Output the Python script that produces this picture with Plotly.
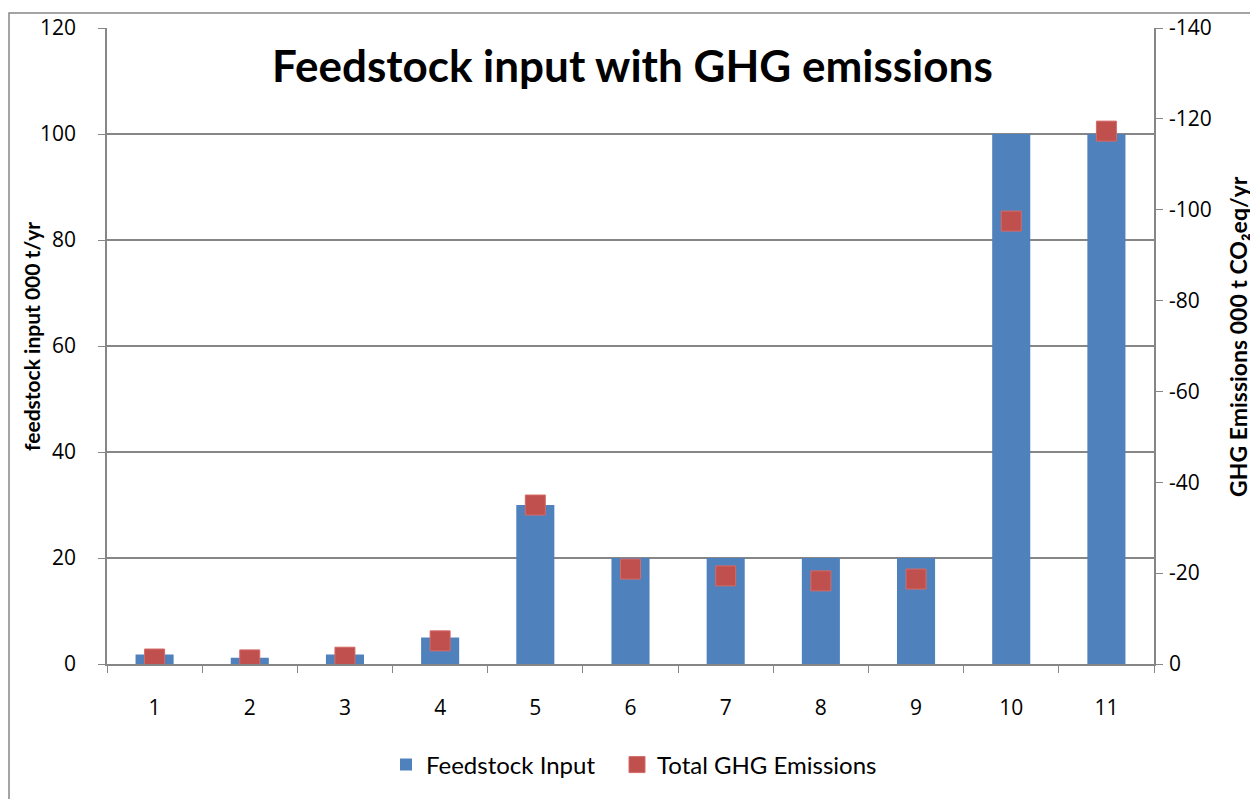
import plotly.graph_objects as go

categories = ["1", "2", "3", "4", "5", "6", "7", "8", "9", "10", "11"]
feedstock_input = [1.8, 1.2, 1.8, 5, 30, 20, 20, 20, 20, 100, 100]
ghg_emissions = [-1.1, -0.9, -1.5, -5.1, -35, -20.9, -19.4, -18.3, -18.7, -97.5, -117.3]

left_ticks = [0, 20, 40, 60, 80, 100, 120]
right_ticks = [0, -20, -40, -60, -80, -100, -120, -140]
right_ticktext = ["0", "-20", "-40", "-60", "-80", "-100", "-120", "-140"]

# page has an 8px body margin; the figure extends past the window bottom
OFF = 8
PLOT_L, PLOT_R, PLOT_T, PLOT_B = 107, 1154, 28, 664  # page coordinates
W, H = 1258 - OFF, 840
L, R, T = PLOT_L - OFF, W - (PLOT_R - OFF), PLOT_T - OFF
B = H - (PLOT_B - OFF)
pw, ph = PLOT_R - PLOT_L, PLOT_B - PLOT_T

def px(x):
    return (x - PLOT_L) / pw

def py(y):
    return (PLOT_B - y) / ph

fig = go.Figure()
fig.add_trace(go.Bar(
    x=categories, y=feedstock_input, name="Feedstock Input",
    marker=dict(color="#4F81BD", line=dict(width=0)), legend="legend",
))
fig.add_trace(go.Scatter(
    x=categories, y=ghg_emissions, name="Total GHG Emissions", yaxis="y2",
    mode="markers", legend="legend2",
    marker=dict(symbol="square", size=20, color="#C0504D",
                line=dict(color="#D46A67", width=1)),
))

axis_font = dict(family="Open Sans", size=21, color="#000000")
legend_font = dict(family="Lato", size=24, color="#000000")
fig.update_layout(
    width=W, height=H,
    margin=dict(l=L, r=R, t=T, b=B, autoexpand=False),
    paper_bgcolor="white", plot_bgcolor="white",
    bargap=0.6,
    showlegend=True,
    legend=dict(orientation="h", x=px(386), y=py(765), xanchor="left", yanchor="middle",
                font=legend_font, itemwidth=30),
    legend2=dict(orientation="h", x=px(617), y=py(765), xanchor="left", yanchor="middle",
                 font=legend_font, itemwidth=30),
    xaxis=dict(type="category", tickson="boundaries", ticks="outside", ticklen=7,
               tickcolor="#868686", showline=True, linecolor="#868686", linewidth=1.5,
               showgrid=False, tickfont=axis_font, ticklabelstandoff=24,
               range=[-0.5, 10.5], zeroline=False, automargin=False),
    yaxis=dict(range=[0, 120], tickvals=left_ticks, ticks="outside", ticklen=7,
               tickcolor="#868686", showline=True, linecolor="#868686", linewidth=1.5,
               showgrid=True, gridcolor="#868686", gridwidth=1.5, tickfont=axis_font,
               ticklabelstandoff=18, zeroline=False, automargin=False),
    yaxis2=dict(overlaying="y", side="right", range=[0, -140], tickvals=right_ticks,
                ticktext=right_ticktext, ticks="outside", ticklen=7, tickcolor="#868686",
                showline=True, linecolor="#868686", linewidth=1.5, showgrid=False,
                tickfont=axis_font, ticklabelstandoff=2, zeroline=False, automargin=False),
    annotations=[
        dict(text="<b>Feedstock input with GHG emissions</b>", x=px(632), y=py(65),
             xref="paper", yref="paper", showarrow=False, xanchor="center", yanchor="middle",
             font=dict(family="Lato", size=44, color="#000000")),
        dict(text="<b>feedstock input 000 t/yr</b>", x=px(32), y=py(337),
             xref="paper", yref="paper", showarrow=False, textangle=-90,
             xanchor="center", yanchor="middle",
             font=dict(family="Lato", size=21, color="#000000")),
        dict(text="<b>GHG Emissions 000 t CO₂eq/yr</b>", x=px(1238), y=py(337),
             xref="paper", yref="paper", showarrow=False, textangle=-90,
             xanchor="center", yanchor="middle",
             font=dict(family="Lato", size=23, color="#000000")),
    ],
    shapes=[
        dict(type="rect", xref="paper", yref="paper", x0=px(9), x1=px(1255),
             y0=py(850), y1=py(13), line=dict(color="#868686", width=1.5),
             fillcolor="rgba(0,0,0,0)", layer="below"),
    ],
)

fig.write_html("out.html")
